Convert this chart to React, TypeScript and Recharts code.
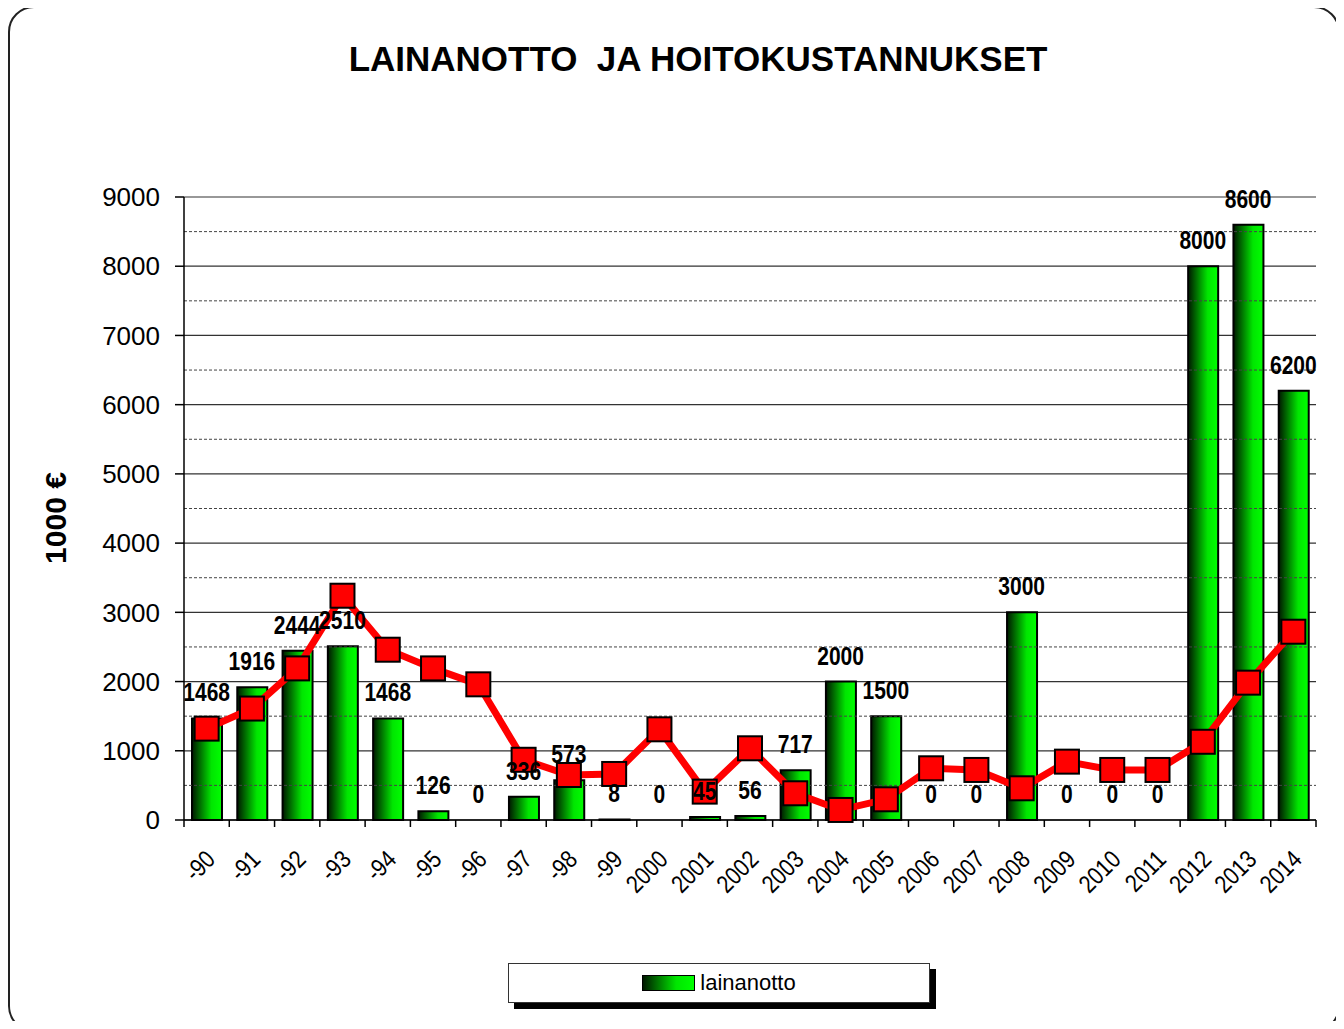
import React from "react"
import { ComposedChart, Bar, Line, XAxis, YAxis, CartesianGrid, ReferenceLine, LabelList } from "recharts"

// vuodet (x-akseli)
const years = [
  "-90", "-91", "-92", "-93", "-94", "-95", "-96", "-97", "-98", "-99",
  "2000", "2001", "2002", "2003", "2004", "2005", "2006", "2007", "2008",
  "2009", "2010", "2011", "2012", "2013", "2014",
]

// lainanotto, 1000 €
const lainanotto = [
  1468, 1916, 2444, 2510, 1468, 126, 0, 336, 573, 8,
  0, 45, 56, 717, 2000, 1500, 0, 0, 3000,
  0, 0, 0, 8000, 8600, 6200,
]

// hoitokustannukset (punainen viiva), luettu kuvasta
const hoitokustannukset = [
  1320, 1610, 2190, 3240, 2460, 2190, 1960, 870, 650, 665,
  1310, 410, 1036, 386, 145, 299, 747, 723, 458,
  843, 723, 723, 1130, 1984, 2720,
]

const yTicks = [0, 1000, 2000, 3000, 4000, 5000, 6000, 7000, 8000, 9000]
const yMinorTicks = [500, 1500, 2500, 3500, 4500, 5500, 6500, 7500, 8500]

const data = years.map((y, i) => ({
  year: y,
  laina: lainanotto[i],
  hoito: hoitokustannukset[i],
}))

const CHART_W = 1328
const CHART_H = 1013
const MARGIN = { top: 189, right: 20, left: 60, bottom: 121 }
const Y_AXIS_W = 116
const PLOT_W = CHART_W - MARGIN.left - MARGIN.right - Y_AXIS_W

const FONT = "'Liberation Sans', Arial, sans-serif"

function XTick(props: any) {
  const { x, y, payload, index } = props
  const band = PLOT_W / years.length
  const tx = x + 10
  const ty = y + 34
  return (
    <g>
      <line x1={x - band / 2} x2={x - band / 2} y1={y - 7} y2={y} stroke="#000" strokeWidth={1.5} />
      {index === years.length - 1 && (
        <line x1={x + band / 2} x2={x + band / 2} y1={y - 7} y2={y} stroke="#000" strokeWidth={1.5} />
      )}
      <text
        x={0}
        y={0}
        transform={`translate(${tx}, ${ty}) rotate(-45) scale(0.92, 1.08)`}
        textAnchor="end"
        fontSize={23}
        fontFamily={FONT}
        fill="#000"
      >
        {payload.value}
      </text>
    </g>
  )
}

function SquareDot(props: any) {
  const { cx, cy } = props
  if (cx == null || cy == null) return null
  return <rect x={cx - 12} y={cy - 12} width={24} height={24} fill="#ff0000" stroke="#000" strokeWidth={2} />
}

// kapea lihavoitu arvoteksti pylvään yläpuolelle
function ValueLabel(props: any) {
  const { x, y, width, value } = props
  const cx = x + (width || 0) / 2
  const by = y - 17
  return (
    <text
      x={0}
      y={0}
      transform={`translate(${cx}, ${by}) scale(0.84, 1.05)`}
      textAnchor="middle"
      fontSize={25}
      fontWeight="bold"
      fontFamily={FONT}
      fill="#000"
    >
      {value}
    </text>
  )
}

export default function App() {
  return (
    <div style={{ position: "relative", width: CHART_W, height: CHART_H }}>
      <div
        style={{
          position: "absolute",
          left: 0,
          top: -2,
          width: 1332,
          height: 1026,
          boxSizing: "border-box",
          border: "2px solid #222",
          borderRadius: 26,
        }}
      />
      <div
        style={{
          position: "absolute",
          left: 0,
          width: 1380,
          top: 31,
          textAlign: "center",
          fontFamily: FONT,
          fontWeight: "bold",
          fontSize: 35,
          color: "#000",
          whiteSpace: "pre",
        }}
      >
        {"LAINANOTTO  JA HOITOKUSTANNUKSET"}
      </div>
      <div
        style={{
          position: "absolute",
          left: 48,
          top: 510,
          transform: "translate(-50%, -50%) rotate(-90deg)",
          fontFamily: FONT,
          fontWeight: "bold",
          fontSize: 30,
          whiteSpace: "nowrap",
        }}
      >
        1000 €
      </div>
      <div style={{ position: "absolute", left: 0, top: 0 }}>
        <ComposedChart width={CHART_W} height={CHART_H} data={data} margin={MARGIN}>
          <defs>
            <linearGradient id="greenBar" x1="0" y1="0" x2="1" y2="0">
              <stop offset="0%" stopColor="#001800" />
              <stop offset="65%" stopColor="#00e600" />
              <stop offset="100%" stopColor="#00ff00" />
            </linearGradient>
          </defs>
          <CartesianGrid vertical={false} stroke="#333" strokeWidth={1.2} />
          {yMinorTicks.map((v) => (
            <ReferenceLine key={v} y={v} stroke="#444" strokeDasharray="3 2" strokeWidth={1} />
          ))}
          <XAxis
            dataKey="year"
            height={80}
            interval={0}
            tickSize={7}
            tickMargin={0}
            tickLine={false}
            axisLine={{ stroke: "#000", strokeWidth: 1.5 }}
            tick={<XTick />}
          />
          <YAxis
            width={Y_AXIS_W}
            domain={[0, 9000]}
            ticks={yTicks}
            interval={0}
            tickSize={9}
            tickMargin={15}
            axisLine={{ stroke: "#000", strokeWidth: 1.5 }}
            tickLine={{ stroke: "#000", strokeWidth: 1.5 }}
            tick={{ fill: "#000", fontSize: 26, fontFamily: FONT }}
          />
          <Bar
            dataKey="laina"
            barSize={30}
            fill="url(#greenBar)"
            stroke="#000"
            strokeWidth={2}
            isAnimationActive={false}
          />
          <Line
            dataKey="hoito"
            stroke="#ff0000"
            strokeWidth={7}
            dot={<SquareDot />}
            activeDot={false}
            isAnimationActive={false}
          />
          <Line
            dataKey="laina"
            stroke="none"
            dot={false}
            activeDot={false}
            legendType="none"
            isAnimationActive={false}
          >
            <LabelList dataKey="laina" content={<ValueLabel />} />
          </Line>
        </ComposedChart>
      </div>
      <div
        style={{
          position: "absolute",
          left: 500,
          top: 955,
          width: 422,
          height: 40,
          boxSizing: "border-box",
          border: "1.5px solid #333",
          background: "#fff",
          boxShadow: "6px 6px 0 #000",
          display: "flex",
          alignItems: "center",
          justifyContent: "center",
          fontFamily: FONT,
          fontSize: 22,
        }}
      >
        <span
          style={{
            display: "inline-block",
            width: 51,
            height: 14,
            border: "1px solid #000",
            background: "linear-gradient(to right, #001800, #00e600 65%, #00ff00)",
            marginRight: 5,
          }}
        />
        lainanotto
      </div>
    </div>
  )
}
